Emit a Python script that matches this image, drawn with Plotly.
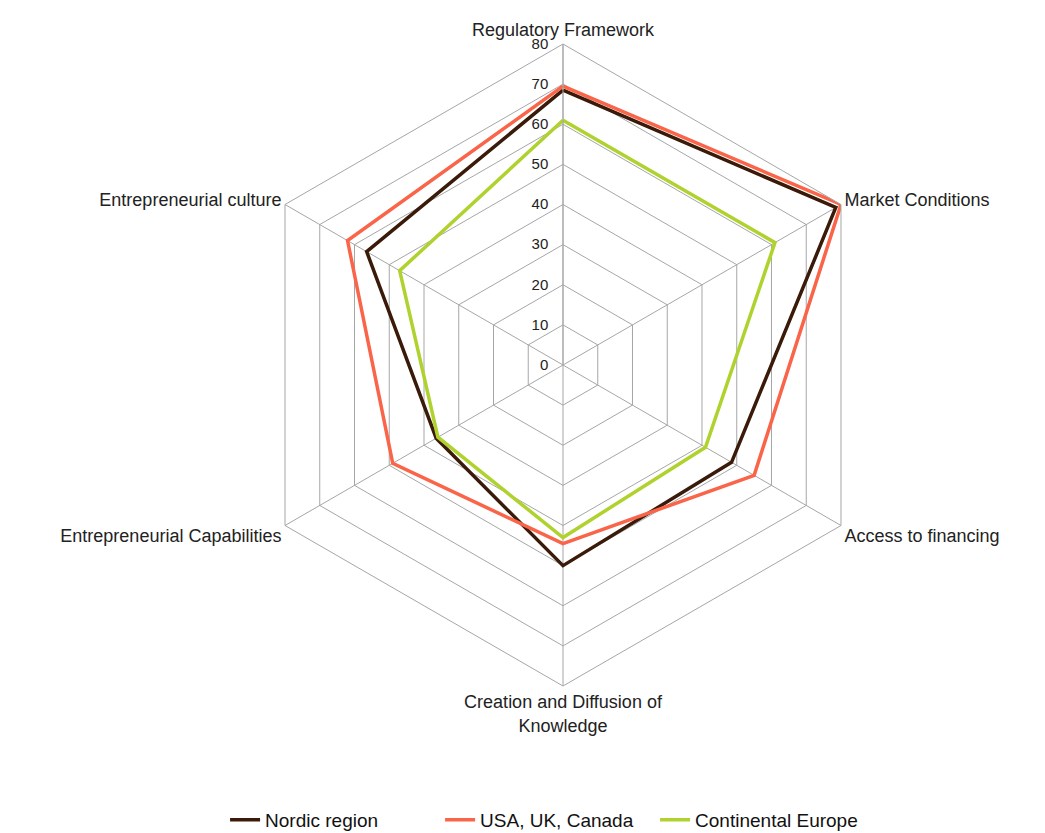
import plotly.graph_objects as go

categories = ["Regulatory Framework", "Market Conditions", "Access to financing",
              "Creation and Diffusion of<br>Knowledge", "Entrepreneurial Capabilities",
              "Entrepreneurial culture"]
nordic = [68.5, 78.5, 48.5, 50, 36.5, 56.5]
usa_uk_canada = [69.5, 80, 55, 44.5, 49, 62]
continental = [61, 61, 41, 43, 36, 47]
series_names = ["Nordic region", "USA, UK, Canada", "Continental Europe"]
colors = ["#3a1a08", "#fa6448", "#b0d22e"]

fig = go.Figure()
for name, vals, col in zip(series_names, [nordic, usa_uk_canada, continental], colors):
    fig.add_trace(go.Scatterpolar(
        r=vals + [vals[0]], theta=categories + [categories[0]],
        mode="lines", name=name, line=dict(color=col, width=3.5)))

W, H = 1045, 833
cx, cy, R = 563, 365, 321
fig.update_layout(
    width=W, height=H,
    margin=dict(l=0, r=0, t=0, b=0, autoexpand=False),
    paper_bgcolor="white",
    font=dict(family="Liberation Sans, Arial, sans-serif", size=17, color="#222"),
    polar=dict(
        domain=dict(x=[(cx - R) / W, (cx + R) / W], y=[(H - cy - R) / H, (H - cy + R) / H]),
        bgcolor="white",
        gridshape="linear",
        radialaxis=dict(range=[0, 80], dtick=10, angle=90, tickangle=90,
                        side="counterclockwise",
                        showline=True, linecolor="#a6a6a6", linewidth=1,
                        gridcolor="#a6a6a6", gridwidth=1,
                        ticks="outside", ticklen=9, tickcolor="rgba(0,0,0,0)",
                        tickfont=dict(size=15, color="#222")),
        angularaxis=dict(rotation=90, direction="clockwise",
                         showline=True, linecolor="#a6a6a6", linewidth=1,
                         gridcolor="#a6a6a6", gridwidth=1, ticks="",
                         tickfont=dict(size=18, color="#222")),
    ),
    legend=dict(orientation="h", x=0.524, xanchor="center", y=-0.007, yanchor="bottom",
                font=dict(size=19, color="#111"), itemwidth=30, tracegroupgap=0,
                entrywidth=170),
)

fig.write_html("out.html")
